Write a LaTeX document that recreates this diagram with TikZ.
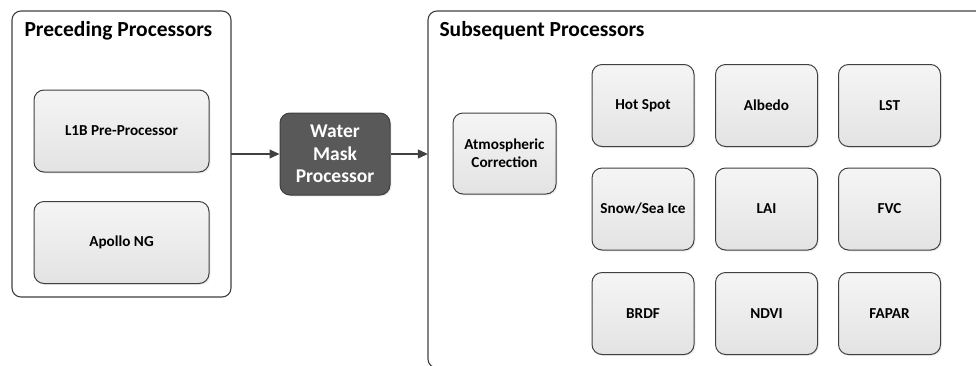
\documentclass[tikz,border=0pt]{standalone}
\usepackage{fontspec}
\setmainfont{Carlito}
\usetikzlibrary{shadows,arrows.meta}
\definecolor{edgegrey}{HTML}{404040}
\definecolor{darkbox}{HTML}{595959}
\begin{document}
\begin{tikzpicture}[x=1pt, y=-1pt,
  group/.style={draw=edgegrey, line width=1.1pt, rounded corners=9pt, fill=white},
  grouptitle/.style={anchor=west, font=\fontsize{21.5}{25}\selectfont\bfseries},
  procbox/.style={draw=edgegrey, line width=1pt, rounded corners=10pt,
    minimum width=102pt, minimum height=82pt, align=center,
    top color=white!96!black, bottom color=white!89!black,
    drop shadow={opacity=0.12, shadow xshift=1.5pt, shadow yshift=-1.5pt},
    font=\fontsize{15.2}{18}\selectfont\bfseries},
  mainbox/.style={procbox, fill=darkbox, top color=darkbox, bottom color=darkbox,
    minimum width=110pt, text=white, font=\fontsize{19.5}{22.5}\selectfont\bfseries},
  flow/.style={draw=edgegrey, line width=1.1pt, -{Triangle[length=10pt, width=9pt]}}]
  \useasboundingbox (0,0) rectangle (976,365);
  \clip (0,0) rectangle (976,365);

  % Preceding processors
  \draw[group] (12,11) rectangle (231,297);
  \node (pre) at (121.5,154) [minimum width=219pt, minimum height=286pt] {};
  \node[grouptitle] (pretitle) at (21,31) {Preceding Processors};
  \node[procbox, minimum width=175pt] (l1b) at (121.5,131) {L1B Pre-Processor};
  \node[procbox, minimum width=175pt] (apollo) at (121.5,242.5) {Apollo NG};

  % Water mask in the middle
  \node[mainbox] (wmp) at (335,154) {Water\\Mask\\Processor};

  % Subsequent processors (runs past the page edge)
  \draw[group] (428,11) rectangle (1100,368);
  \node (post) at (714,187.5) [minimum width=572pt, minimum height=353pt] {};
  \node[grouptitle] (posttitle) at (436,31) {Subsequent Processors};
  \node[procbox, minimum width=103pt, minimum height=81pt] (atmo) at (504.5,153.5) {Atmospheric\\Correction};

  \foreach \name/\txt/\x/\y in {hot/Hot Spot/643/105.5, albedo/Albedo/766.5/105.5, lst/LST/889.5/105.5,
      snow/Snow\slash Sea Ice/643/209, lai/LAI/766.5/209, fvc/FVC/889.5/209,
      brdf/BRDF/643/313.5, ndvi/NDVI/766.5/313.5, fapar/FAPAR/889.5/313.5} {
    \node[procbox] (\name) at (\x,\y) {\txt};
  }

  \draw[flow] (pre.east) -- (wmp.west);
  \draw[flow] (wmp.east) -- (wmp.east -| post.west);
\end{tikzpicture}
\end{document}
